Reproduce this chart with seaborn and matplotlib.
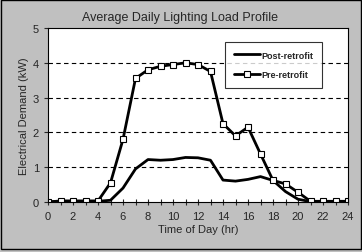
import numpy as np
import pandas as pd
import seaborn as sns
import matplotlib.pyplot as plt
from matplotlib.patches import Rectangle

# hourly load profile
hours = list(range(25))
post_retrofit = [0.0, 0.02, 0.02, 0.02, 0.02, 0.05, 0.4, 0.95, 1.22, 1.2, 1.22, 1.28, 1.27,
                 1.2, 0.63, 0.6, 0.65, 0.73, 0.62, 0.3, 0.08, 0.01, 0.01, 0.01, 0.01]
pre_retrofit = [0.0, 0.03, 0.03, 0.03, 0.03, 0.55, 1.8, 3.55, 3.8, 3.9, 3.95, 4.0, 3.95,
                3.75, 2.25, 1.9, 2.15, 1.38, 0.62, 0.52, 0.28, 0.02, 0.02, 0.02, 0.02]

data = pd.DataFrame({"hour": hours * 2,
                     "kw": post_retrofit + pre_retrofit,
                     "series": ["Post-retrofit"] * 25 + ["Pre-retrofit"] * 25})

sns.set_style("white")
plt.rcParams['font.family'] = ['Liberation Sans', 'DejaVu Sans']

fig = plt.figure(figsize = (3.62, 2.53), dpi = 100, facecolor = "#c0c0c0")
ax = fig.add_axes([48 / 362, 1 - 203 / 253, 300 / 362, 174 / 253])
ax.set_facecolor("white")

sns.lineplot(data = data[data.series == "Post-retrofit"], x = "hour", y = "kw",
             color = "black", linewidth = 2, ax = ax, label = "Post-retrofit")
sns.lineplot(data = data[data.series == "Pre-retrofit"], x = "hour", y = "kw",
             color = "black", linewidth = 2, marker = "s", markersize = 5,
             markerfacecolor = "white", markeredgecolor = "black", markeredgewidth = 0.8,
             ax = ax, label = "Pre-retrofit")

ax.set_xlim(0, 24)
ax.set_ylim(0, 5)
ax.set_xticks(range(0, 25, 2))
ax.set_xticks(range(0, 25), minor = True)
ax.set_yticks(range(0, 6))
for y in range(1, 5):
    ax.axhline(y, color = "black", linestyle = (0, (4, 3)), linewidth = 0.8, zorder = 0)
ax.tick_params(axis = "x", which = "both", direction = "inout", length = 5, width = 0.8,
               labelsize = 8, pad = 4, bottom = True)
ax.tick_params(axis = "y", direction = "out", length = 3, width = 0.8, labelsize = 8, left = True)
for s in ax.spines.values():
    s.set_color("black")
    s.set_linewidth(0.8)

ax.set_xlabel("Time of Day (hr)", fontsize = 8, labelpad = 2)
ax.set_ylabel("Electrical Demand (kW)", fontsize = 8, labelpad = 3)
fig.text(180 / 362, 1 - 18 / 253, "Average Daily Lighting Load Profile",
         ha = "center", va = "center", fontsize = 9)

leg = ax.legend(loc = "upper right", bbox_to_anchor = (327 / 362, 1 - 38 / 253),
                bbox_transform = fig.transFigure, fontsize = 6.5, frameon = True,
                fancybox = False, edgecolor = "black", handlelength = 2.8,
                labelspacing = 1.2, borderpad = 1.0, handletextpad = 0.2)
leg.get_frame().set_linewidth(0.8)
for t in leg.get_texts():
    t.set_fontweight("bold")

fig.add_artist(Rectangle((0.5 / 362, 3 / 253), 360.5 / 362, 249.5 / 253,
                         transform = fig.transFigure, fill = False,
                         edgecolor = "black", linewidth = 1))

fig.savefig("out.png", dpi = 100, facecolor = fig.get_facecolor())
